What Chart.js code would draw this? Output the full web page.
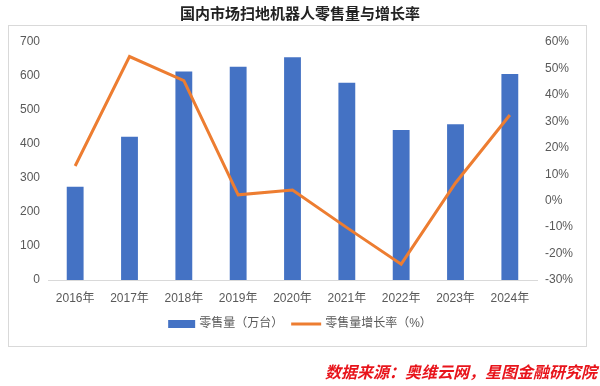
<!DOCTYPE html>
<html><head><meta charset="utf-8">
<script src="https://cdn.jsdelivr.net/npm/chart.js@4.4.1/dist/chart.umd.min.js"></script>
<style>html,body{margin:0;padding:0;background:#fff}canvas{display:block}</style>
</head><body>
<canvas id="c" width="600" height="386"></canvas>
<script>
const categories = ['2016年','2017年','2018年','2019年','2020年','2021年','2022年','2023年','2024年'];
const retailSales = [274, 421, 613, 627, 655, 580, 441, 458, 606];
const growthRate = [13.1, 54.5, 45.4, 2.2, 4.0, -10.2, -24.0, 6.7, 32.4];
const seriesNames = ['零售量（万台）', '零售量增长率（%）'];
const chartTitle = '国内市场扫地机器人零售量与增长率';
const sourceNote = '数据来源：奥维云网，星图金融研究院';

const FONT = '"Liberation Sans", Arial, "Noto Sans CJK SC", sans-serif';
const BLUE = '#4472C4', ORANGE = '#ED7D31', TXT = '#595959';

const decor = {
  id: 'decor',
  beforeDraw(chart) {
    const ctx = chart.ctx;
    ctx.save();
    ctx.fillStyle = '#fff';
    ctx.fillRect(0, 0, chart.width, chart.height);
    ctx.strokeStyle = '#d9d9d9';
    ctx.lineWidth = 1;
    ctx.strokeRect(8.5, 25.5, 578, 321);
    ctx.fillStyle = '#222';
    ctx.font = 'bold 15px "Noto Sans CJK SC", sans-serif';
    ctx.textAlign = 'center';
    ctx.textBaseline = 'middle';
    ctx.fillText(chartTitle, 300, 13);
    ctx.restore();
  },
  afterDraw(chart) {
    const ctx = chart.ctx;
    ctx.save();
    ctx.font = '12px ' + FONT;
    ctx.textBaseline = 'middle';
    ctx.textAlign = 'left';
    const y = 324;
    const w1 = ctx.measureText(seriesNames[0]).width;
    const w2 = ctx.measureText(seriesNames[1]).width;
    const total = 27 + 4 + w1 + 8 + 30 + 4 + w2;
    let x = 300 - total / 2;
    ctx.fillStyle = BLUE;
    ctx.fillRect(x, y - 4, 27, 8);
    x += 31;
    ctx.fillStyle = TXT;
    ctx.fillText(seriesNames[0], x, y);
    x += w1 + 8;
    ctx.strokeStyle = ORANGE;
    ctx.lineWidth = 3;
    ctx.beginPath(); ctx.moveTo(x, y); ctx.lineTo(x + 30, y); ctx.stroke();
    x += 34;
    ctx.fillText(seriesNames[1], x, y);
    ctx.font = 'italic bold 16px "Noto Sans CJK SC", sans-serif';
    ctx.fillStyle = '#e8141b';
    ctx.textAlign = 'right';
    ctx.fillText(sourceNote, 597, 372);
    ctx.restore();
  }
};

new Chart(document.getElementById('c'), {
  data: {
    labels: categories,
    datasets: [
      { type: 'line', label: seriesNames[1], data: growthRate, yAxisID: 'y1',
        borderColor: ORANGE, backgroundColor: ORANGE, borderWidth: 3,
        pointRadius: 0, tension: 0, order: 0 },
      { type: 'bar', label: seriesNames[0], data: retailSales, yAxisID: 'y',
        backgroundColor: BLUE, barPercentage: 0.31, categoryPercentage: 1, order: 1 }
    ]
  },
  options: {
    responsive: false,
    animation: false,
    layout: { padding: { top: 42, bottom: 76, left: 0, right: 0 } },
    plugins: { legend: { display: false }, title: { display: false }, tooltip: { enabled: false } },
    scales: {
      x: {
        grid: { display: false, drawTicks: false },
        border: { display: true, color: '#d9d9d9' },
        ticks: { color: TXT, font: { size: 12, family: FONT }, padding: 11, maxRotation: 0, autoSkip: false },
        afterFit(s) { s.height = 30; }
      },
      y: {
        position: 'left', min: 0, max: 700,
        grid: { display: false, drawTicks: false },
        border: { display: false },
        ticks: { stepSize: 100, color: TXT, font: { size: 12, family: FONT }, padding: 8 },
        afterFit(s) { s.width = 48; }
      },
      y1: {
        position: 'right', min: -30, max: 60,
        grid: { display: false, drawTicks: false },
        border: { display: false },
        ticks: { stepSize: 10, color: TXT, font: { size: 12, family: FONT }, padding: 8,
                 callback: v => v + '%' },
        afterFit(s) { s.width = 63; }
      }
    }
  },
  plugins: [decor]
});
</script>
</body></html>
